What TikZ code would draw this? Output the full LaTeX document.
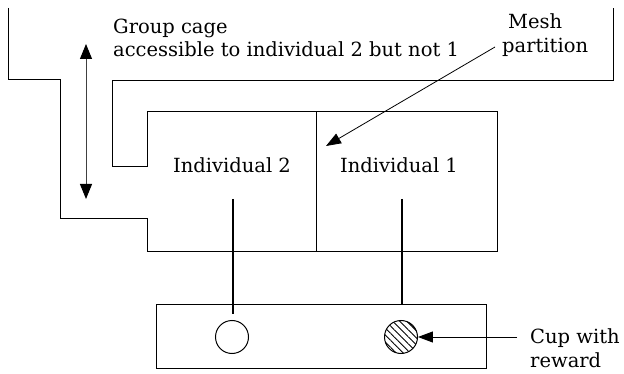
\documentclass[tikz,border=0pt]{standalone}
\usepackage{fontspec}
\setmainfont{DejaVu Serif}
\usetikzlibrary{arrows.meta,patterns.meta}
\begin{document}
\begin{tikzpicture}[x=1pt,y=-1pt,
  wall/.style={line width=1pt},
  lever/.style={line width=1.8pt},
  lbl/.style={inner sep=0pt, anchor=base west, font=\fontsize{19.5}{23.5}\selectfont},
  tiphead/.style={-{Triangle[length=15pt,width=11pt]}},
  cupnode/.style={circle, draw, line width=1pt, minimum size=33pt, inner sep=0pt}]
\useasboundingbox (0,0) rectangle (624,374);
% walls of the cages
\draw[wall] (8,8) -- (8,80) -- (60,80) -- (60,219) -- (147,219) -- (147,252)
  -- (497,252) -- (497,112) -- (147,112) -- (147,167) -- (112,167) -- (112,81)
  -- (613,81) -- (613,8);
% mesh partition
\coordinate (ptop) at (316,112);
\coordinate (pbot) at (316,252);
\draw[wall] (ptop) -- (pbot);
% double arrow
\coordinate (da1) at (86,44);
\coordinate (da2) at (86,199);
\draw[line width=1pt, black!75, {Triangle[length=15pt,width=12pt,black]}-{Triangle[length=15pt,width=12pt,black]}] (da1) -- (da2);
% tray and cups
\node[draw, wall, minimum width=330pt, minimum height=64pt, inner sep=0pt] (tray) at (321,336) {};
\node[cupnode] (cupL) at (232,337) {};
\node[cupnode, pattern={Lines[angle=-45,distance=5pt,line width=0.9pt]}] (cupR) at (401,337) {};
% levers
\coordinate (lv2) at (233,199);
\coordinate (lv1) at (402,199);
\draw[lever] (lv2) -- (233,314);
\draw[lever] (lv1) -- (lv1 |- tray.north);
% labels
\node[lbl] (gc1) at (113,34) {Group cage};
\node[lbl] (gc2) at (113,57) {accessible to individual 2 but not 1};
\node[lbl] (mesh1) at (508,29) {Mesh};
\node[lbl] (mesh2) at (502,53) {partition};
\node[lbl, anchor=base] (ind2) at (232,173) {Individual 2};
\node[lbl, anchor=base] (ind1) at (399,173) {Individual 1};
\node[lbl] (cup1) at (530,343) {Cup with};
\node[lbl] (cup2) at (530,367) {reward};
% arrows
\coordinate (meshfrom) at (495,47);
\coordinate (meshto) at (326,146);
\draw[line width=0.8pt, tiphead] (meshfrom) -- (meshto);
\coordinate (cupfrom) at (517,337);
\draw[line width=1pt, tiphead] (cupfrom) -- (cupR.east);
\end{tikzpicture}
\end{document}
